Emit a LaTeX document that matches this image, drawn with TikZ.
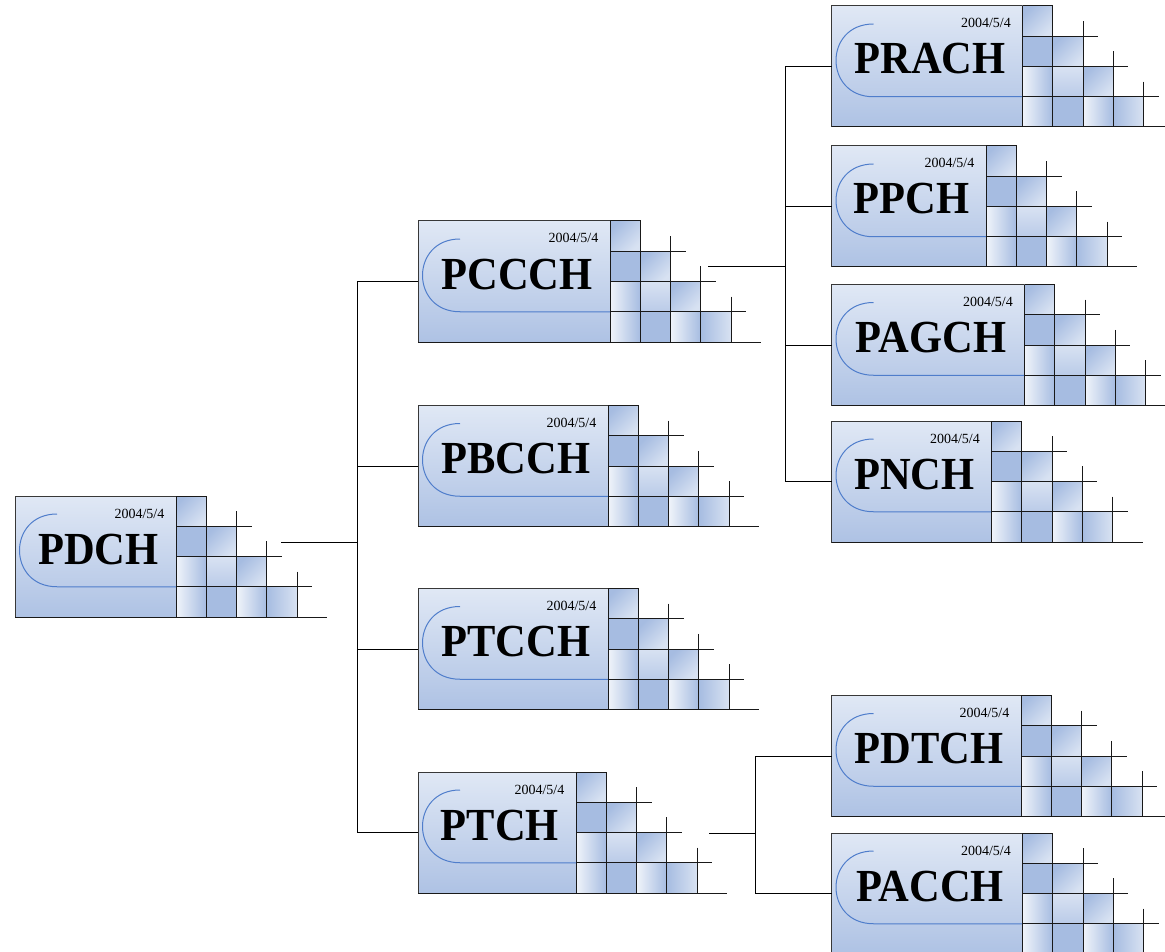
\documentclass[tikz,border=0pt]{standalone}
\usepackage{fontspec}
\setmainfont{Liberation Serif}
\usetikzlibrary{calc}

\definecolor{boxtop}{HTML}{E0E8F5}
\definecolor{boxbot}{HTML}{AEC2E4}
\definecolor{cellblue}{HTML}{A6BCE1}
\definecolor{celllight}{HTML}{D8E2F2}
\definecolor{cellwhite}{HTML}{F0F4FA}
\definecolor{cellmid}{HTML}{BACBE8}
\definecolor{swooshblue}{HTML}{4F7DCB}

\def\cs{30.25}% side of one grid cell

\tikzset{
  wire/.style={draw=black, line width=1pt},
  mainbox/.style={draw=black!78, line width=1pt, top color=boxtop, bottom color=boxbot,
    inner sep=0pt, outer sep=0pt, minimum height=121pt, anchor=north west},
  gridline/.style={draw=black!90, line width=1pt},
  swoosh/.style={draw=swooshblue, line width=1pt},
  cellsolid/.style={fill=cellblue},
  cellhoriz/.style={left color=cellwhite, right color=cellblue},
  cellrev/.style={left color=cellblue, right color=celllight},
  celldiag/.style={top color=cellblue, bottom color=celllight, shading angle=45},
  cellvert/.style={top color=celllight, bottom color=cellmid},
  titletext/.style={font=\bfseries\fontsize{42.5}{44}\selectfont, anchor=base, inner sep=0pt},
  datetext/.style={font=\fontsize{14}{16}\selectfont, anchor=base east, inner sep=0pt},
}

% #1 name, #2 left, #3 top, #4 width of the label panel, #5 channel name
\newcommand\chblock[5]{%
  \begin{scope}[shift={(#2,#3)}]
    \node[mainbox, minimum width=#4pt] (#1) at (0,0) {};
    % staircase of shaded cells
    \path[celldiag]  (#4,0) rectangle ++(\cs,\cs);
    \path[cellsolid] (#4,\cs) rectangle ++(\cs,\cs);
    \path[cellhoriz] (#4,{2*\cs}) rectangle ++(\cs,\cs);
    \path[cellhoriz] (#4,{3*\cs}) rectangle ++(\cs,\cs);
    \path[celldiag]  ({#4+\cs},\cs) rectangle ++(\cs,\cs);
    \path[cellvert]  ({#4+\cs},{2*\cs}) rectangle ++(\cs,\cs);
    \path[cellsolid] ({#4+\cs},{3*\cs}) rectangle ++(\cs,\cs);
    \path[celldiag]  ({#4+2*\cs},{2*\cs}) rectangle ++(\cs,\cs);
    \path[cellhoriz] ({#4+2*\cs},{3*\cs}) rectangle ++(\cs,\cs);
    \path[cellrev]   ({#4+3*\cs},{3*\cs}) rectangle ++(\cs,\cs);
    % blue swoosh inside the label panel
    \draw[swoosh] (#4,{3*\cs}) -- (42,{3*\cs}) .. controls (-8,{3*\cs}) and (-8,18) .. (42,18);
    % grid lines
    \draw[gridline] (#4,0) -- ({#4+\cs},0) -- ({#4+\cs},121);
    \draw[gridline] (#4,0) -- (#4,121);
    \draw[gridline] ({#4+2*\cs},{0.5*\cs}) -- ({#4+2*\cs},121);
    \draw[gridline] ({#4+3*\cs},{1.5*\cs}) -- ({#4+3*\cs},121);
    \draw[gridline] ({#4+4*\cs},{2.5*\cs}) -- ({#4+4*\cs},121);
    \draw[gridline] (#4,\cs) -- ({#4+2.5*\cs},\cs);
    \draw[gridline] (#4,{2*\cs}) -- ({#4+3.5*\cs},{2*\cs});
    \draw[gridline] (#4,{3*\cs}) -- ({#4+4.5*\cs},{3*\cs});
    \draw[gridline] (0,121) -- ({#4+5*\cs},121);
    % texts
    \node[titletext] (#1-title) at ({#4/2+3},68) {\scalebox{1}[1.08]{#5}};
    \node[datetext] (#1-date) at ({#4-11.5},22) {2004/5/4};
  \end{scope}}

\begin{document}
\begin{tikzpicture}[x=1pt, y=-1pt]
  \useasboundingbox (0,0) rectangle (1165,952);
  \fill[white] (0,0) rectangle (1165,952);

  % channel blocks
  \chblock{pdch}{15}{496}{161}{PDCH}
  \chblock{pccch}{418}{221}{192}{PCCCH}
  \chblock{pbcch}{418}{405.5}{190}{PBCCH}
  \chblock{ptcch}{418}{588.5}{190}{PTCCH}
  \chblock{ptch}{418}{772}{158}{PTCH}
  \chblock{prach}{831.5}{6}{191}{PRACH}
  \chblock{ppch}{831.5}{146}{154.5}{PPCH}
  \chblock{pagch}{831.5}{284.5}{193}{PAGCH}
  \chblock{pnch}{831.5}{421}{160}{PNCH}
  \chblock{pdtch}{831.5}{695.5}{189.5}{PDTCH}
  \chblock{pacch}{831.5}{833}{191}{PACCH}

  % tree connectors
  \coordinate (pdch-out) at (281,542);
  \coordinate (busA) at (357,542);
  \coordinate (pccch-out) at (708,267);
  \coordinate (busB) at (785,267);
  \coordinate (ptch-out) at (709,833);
  \coordinate (busC) at (755,833);

  \draw[wire] (pdch-out) -- (busA);
  \draw[wire] (busA |- pccch.west) -- (busA |- ptch.west);
  \foreach \n in {pccch,pbcch,ptcch,ptch}
    \draw[wire] (busA |- \n.west) -- (\n.west);

  \draw[wire] (pccch-out) -- (busB);
  \draw[wire] (busB |- prach.west) -- (busB |- pnch.west);
  \foreach \n in {prach,ppch,pagch,pnch}
    \draw[wire] (busB |- \n.west) -- (\n.west);

  \draw[wire] (ptch-out) -- (busC);
  \draw[wire] (busC |- pdtch.west) -- (busC |- pacch.west);
  \foreach \n in {pdtch,pacch}
    \draw[wire] (busC |- \n.west) -- (\n.west);
\end{tikzpicture}
\end{document}
